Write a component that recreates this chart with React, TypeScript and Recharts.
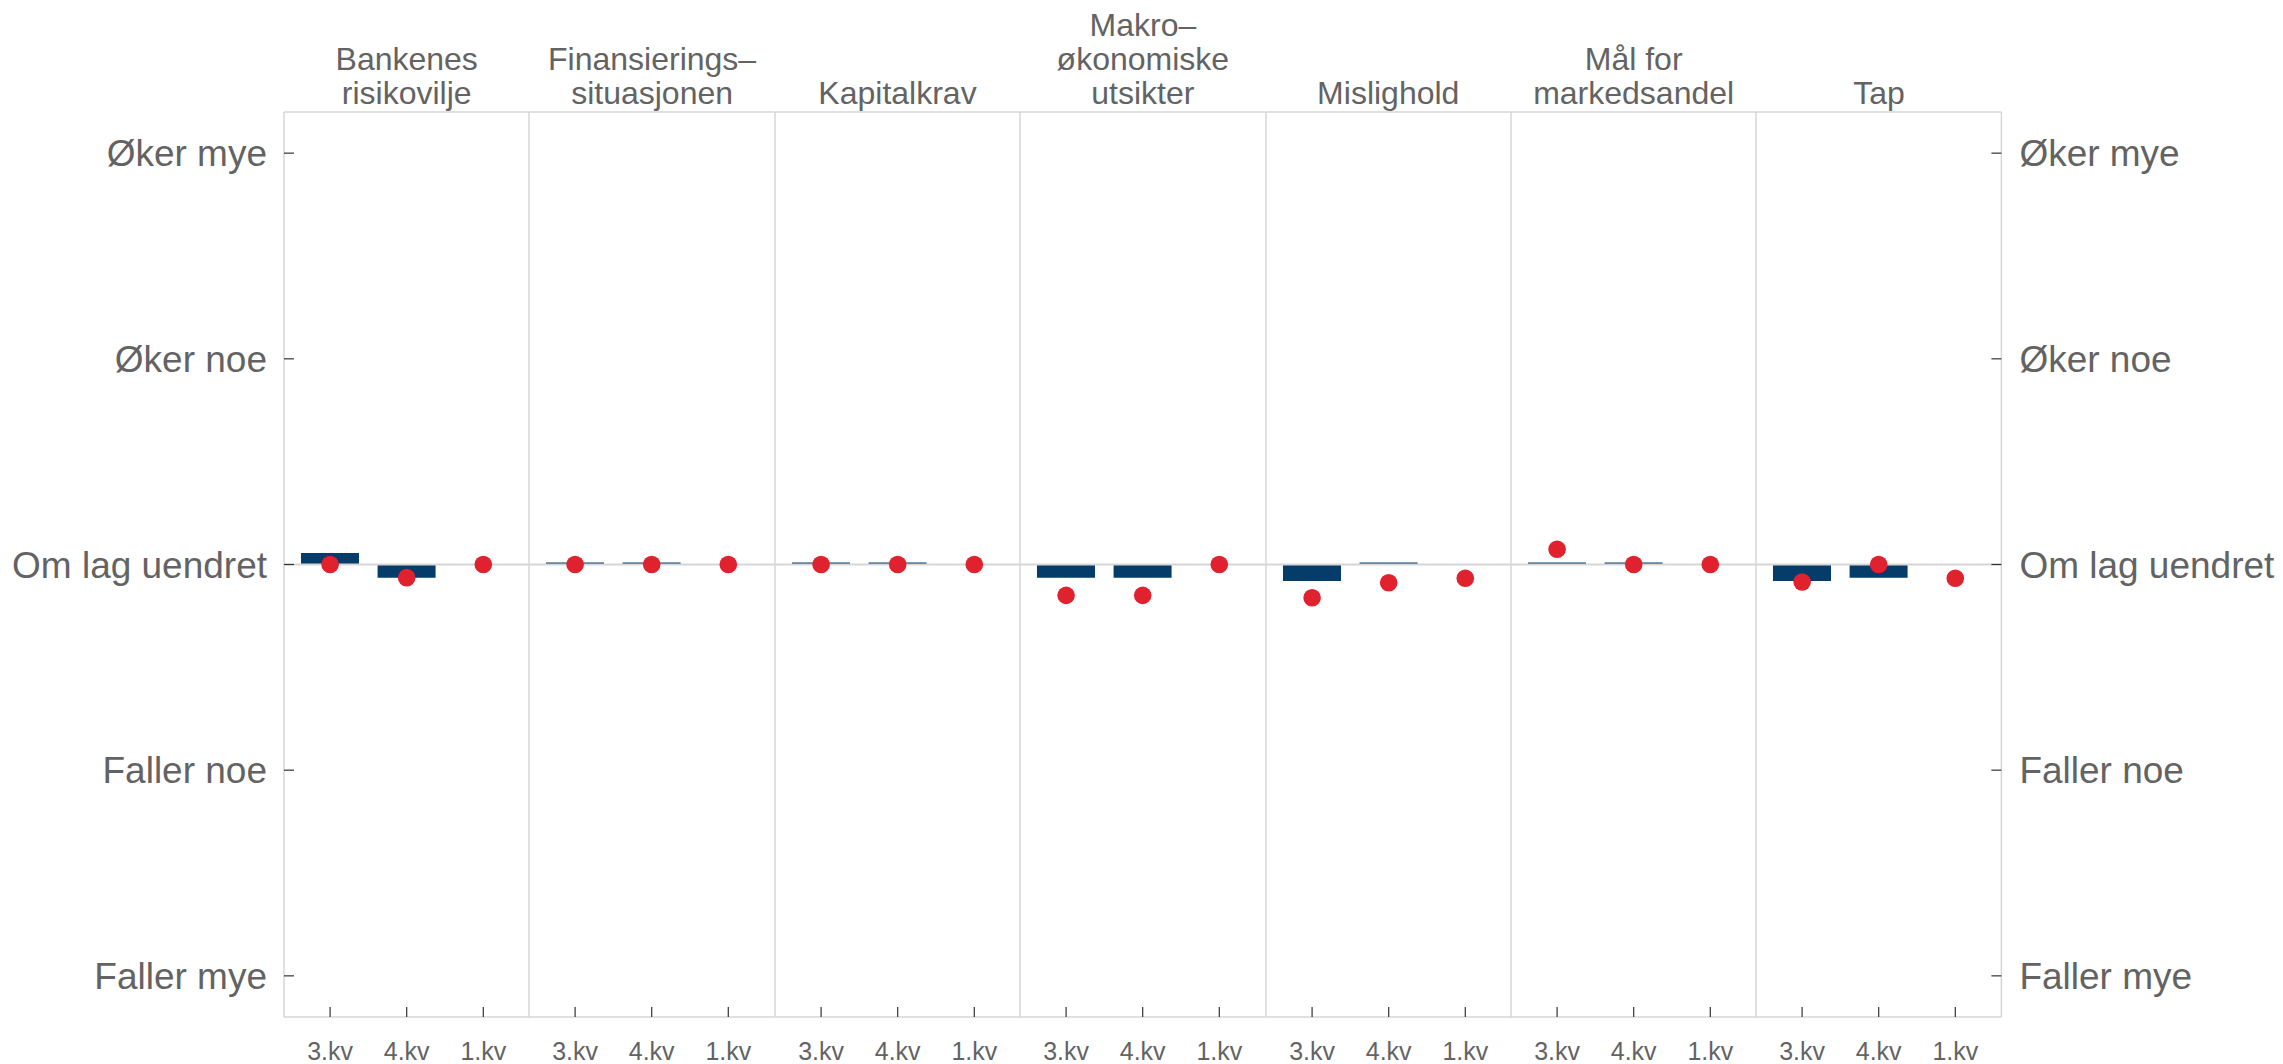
import React from "react";
import {
  ComposedChart,
  Bar,
  Line,
  XAxis,
  YAxis,
  ReferenceLine,
} from "recharts";

// Survey panels (facet titles), quarters on the x axis, answer scale on y
const panelTitles = [
  "Bankenes\nrisikovilje",
  "Finansierings–\nsituasjonen",
  "Kapitalkrav",
  "Makro–\nøkonomiske\nutsikter",
  "Mislighold",
  "Mål for\nmarkedsandel",
  "Tap",
];
const quarters = ["3.kv", "4.kv", "1.kv"];
const scaleLabels = ["Faller mye", "Faller noe", "Om lag uendret", "Øker noe", "Øker mye"];
const scaleTicks = [-2, -1, 0, 1, 2];

// bars: actual development, no bar for the last quarter
const barValues: (number | null)[][] = [
  [0.056, -0.064, null],
  [0, 0, null],
  [0, 0, null],
  [-0.064, -0.064, null],
  [-0.08, 0, null],
  [0, 0, null],
  [-0.08, -0.064, null],
];
// dots: expected development
const dotValues: number[][] = [
  [0, -0.064, 0],
  [0, 0, 0],
  [0, 0, 0],
  [-0.15, -0.15, 0],
  [-0.162, -0.089, -0.067],
  [0.074, 0, 0],
  [-0.085, 0, -0.067],
];

const PANEL_W = 245.4;
const LEFT_W = 284;
const RIGHT_W = 281;
const H = 1064;
const TOP = 112;
const X_AXIS_H = 47;

const BORDER = "#d6d6d6";
const TEXT = "#636363";
const FONT = "'Liberation Sans', Arial, sans-serif";
const BLUE = "#053c69";
const RED = "#e0212e";

function Panel({ idx }: { idx: number }) {
  const first = idx === 0;
  const last = idx === panelTitles.length - 1;
  const data = quarters.map((q, i) => ({
    q,
    bar: barValues[idx][i],
    dot: dotValues[idx][i],
  }));
  const width = PANEL_W + (first ? LEFT_W : 0) + (last ? RIGHT_W : 0);

  return (
    <ComposedChart
      width={width}
      height={H}
      data={data}
      margin={{ top: TOP - 1, right: 0, bottom: 0, left: first ? 0 : -1 }}
      barCategoryGap="12%"
    >
      <XAxis
        xAxisId="top"
        orientation="top"
        dataKey="q"
        height={1}
        tick={false}
        tickLine={false}
        axisLine={{ stroke: BORDER, strokeWidth: 1.5 }}
      />
      <XAxis
        dataKey="q"
        height={X_AXIS_H}
        interval={0}
        padding={{ left: 7.8, right: 7.8 }}
        axisLine={{ stroke: BORDER, strokeWidth: 1.5 }}
        tickLine={{ stroke: "#333", strokeWidth: 1.2 }}
        tickSize={-10}
        tickMargin={35}
        tick={{ fill: TEXT, fontSize: 25, fontFamily: FONT }}
      />
      <YAxis
        domain={[-2.2, 2.2]}
        ticks={scaleTicks}
        interval={0}
        width={first ? LEFT_W : 1}
        axisLine={{ stroke: BORDER, strokeWidth: 1.5 }}
        tick={first ? { fill: TEXT, fontSize: 37, fontFamily: FONT } : false}
        tickLine={first ? { stroke: "#333", strokeWidth: 1.2 } : false}
        tickSize={-10}
        tickMargin={27}
        tickFormatter={(v: number) => scaleLabels[v + 2]}
      />
      {last && (
        <YAxis
          yAxisId="right"
          orientation="right"
          domain={[-2.2, 2.2]}
          ticks={scaleTicks}
          interval={0}
          width={RIGHT_W}
          axisLine={{ stroke: BORDER, strokeWidth: 1.5 }}
          tick={{ fill: TEXT, fontSize: 37, fontFamily: FONT }}
          tickLine={{ stroke: "#333", strokeWidth: 1.2 }}
          tickSize={-10}
          tickMargin={28}
          tickFormatter={(v: number) => scaleLabels[v + 2]}
        />
      )}
      <ReferenceLine y={0} stroke={BORDER} strokeWidth={2} />
      <Bar
        dataKey="bar"
        fill={BLUE}
        minPointSize={(v: number | null | undefined) => (v == null ? 0 : 2)}
        isAnimationActive={false}
      />
      <Line
        dataKey="dot"
        yAxisId={last ? "right" : 0}
        stroke="none"
        dot={{ r: 8.8, fill: RED, stroke: "none", fillOpacity: 1 }}
        activeDot={false}
        isAnimationActive={false}
      />
    </ComposedChart>
  );
}

export default function App() {
  return (
    <div
      style={{
        position: "absolute",
        left: 0,
        top: 0,
        width: 2283,
        height: H,
        background: "#fff",
        fontFamily: FONT,
      }}
    >
      <style>{`.recharts-surface { overflow: visible; }`}</style>
      {/* Facet titles, bottom aligned above the panels */}
      <div
        style={{
          position: "absolute",
          left: LEFT_W,
          top: 0,
          height: 110,
          display: "flex",
          alignItems: "flex-end",
        }}
      >
        {panelTitles.map((t) => (
          <div
            key={t}
            style={{
              width: PANEL_W,
              textAlign: "center",
              whiteSpace: "pre-line",
              fontSize: 32,
              lineHeight: "34px",
              color: TEXT,
            }}
          >
            {t}
          </div>
        ))}
      </div>
      <div style={{ display: "flex", position: "absolute", left: 0, top: 0 }}>
        {panelTitles.map((t, i) => (
          <div key={t} style={{ flex: "none" }}>
            <Panel idx={i} />
          </div>
        ))}
      </div>
    </div>
  );
}
